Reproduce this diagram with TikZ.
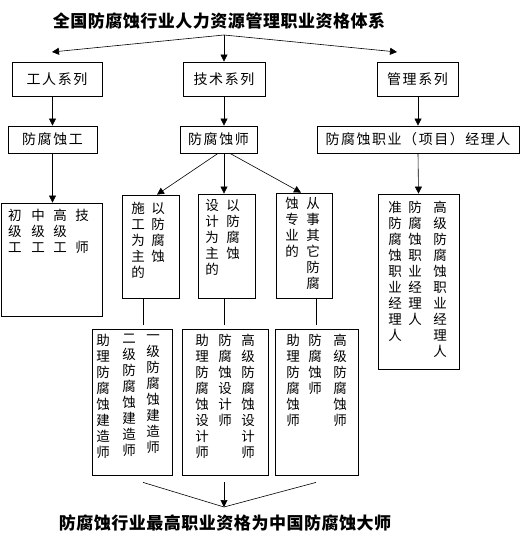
\documentclass[tikz,border=0pt]{standalone}
\usepackage{fontspec}
\usetikzlibrary{arrows.meta}
\newfontfamily\cjk{Noto Sans CJK SC}
\newfontfamily\cjkbox{Noto Sans CJK SC}[LetterSpace=11]
\newfontfamily\cjkhead{Noto Sans CJK SC}[LetterSpace=3]

\begin{document}
\begin{tikzpicture}[x=1pt, y=-1pt,
        box/.style={draw, line width=0.8pt, inner sep=0pt},
        boxtext/.style={font=\cjkbox\fontsize{14}{16}\selectfont},
        headline/.style={font=\cjkhead\bfseries\fontsize{17}{20}\selectfont},
        col/.style={anchor=north, inner sep=0pt, align=center, font=\cjk\fontsize{13.5}{16}\selectfont,
                execute at begin node=\rule{0pt}{11.5pt}},
        link/.style={line width=0.6pt},
        arr/.style={link, -{Triangle[length=7pt, width=7pt]}}]
                \useasboundingbox (0,0) rectangle (520,537);

                \node[headline] (top) at (219,21) {全国防腐蚀行业人力资源管理职业资格体系};

                \node[box, boxtext, minimum width=90pt, minimum height=34pt] (gr) at (57,79) {工人系列};
                \node[box, boxtext, minimum width=82pt, minimum height=34pt] (js) at (224,79) {技术系列};
                \node[box, boxtext, minimum width=81pt, minimum height=34pt] (gl) at (417.5,79) {管理系列};

                \node[box, boxtext, minimum width=89pt, minimum height=27pt] (fw) at (52.5,139.5) {防腐蚀工};
                \node[box, boxtext, minimum width=77pt, minimum height=27pt] (fs) at (218.5,139.5) {防腐蚀师};
                \node[box, boxtext, minimum width=202pt, minimum height=27pt] (jl) at (418,139.5) {防腐蚀职业（项目）经理人};

                \node[box, minimum width=101pt, minimum height=113pt] (wk) at (51.5,259.5) {};
                \node[box, minimum width=57pt, minimum height=103pt] (sg) at (150.5,246.5) {};
                \node[box, minimum width=57pt, minimum height=104pt] (sj) at (226.5,246) {};
                \node[box, minimum width=56pt, minimum height=105pt] (qt) at (304,245.5) {};
                \node[box, minimum width=81pt, minimum height=175pt] (mg) at (418.5,281.5) {};

                \node[box, minimum width=80pt, minimum height=146pt] (za) at (132,402) {};
                \node[box, minimum width=86pt, minimum height=146pt] (zb) at (225,402) {};
                \node[box, minimum width=83pt, minimum height=146pt] (zc) at (316.5,402) {};

                \node[col] (wk1) at (15,209) {初\\级\\工};
                \node[col] (wk2) at (38,209) {中\\级\\工};
                \node[col] (wk3) at (60,209) {高\\级\\工};
                \node[col] (wk4) at (82,209) {技\\\phantom{师}\\师};

                \node[col] (sg1) at (138,202) {施\\工\\为\\主\\的};
                \node[col] (sg2) at (158,202) {以\\防\\腐\\蚀};
                \node[col] (sj1) at (212,199) {设\\计\\为\\主\\的};
                \node[col] (sj2) at (233,199) {以\\防\\腐\\蚀};
                \node[col] (qt1) at (292,197) {蚀\\专\\业\\的};
                \node[col] (qt2) at (313,197) {从\\事\\其\\它\\防\\腐};

                \node[col] (mg1) at (395,201) {准\\防\\腐\\蚀\\职\\业\\经\\理\\人};
                \node[col] (mg2) at (415,201) {防\\腐\\蚀\\职\\业\\经\\理\\人};
                \node[col] (mg3) at (440,201) {高\\级\\防\\腐\\蚀\\职\\业\\经\\理\\人};

                \node[col] (za1) at (103,334) {助\\理\\防\\腐\\蚀\\建\\造\\师};
                \node[col] (za2) at (129,334) {二\\级\\防\\腐\\蚀\\建\\造\\师};
                \node[col] (za3) at (153,334) {一\\级\\防\\腐\\蚀\\建\\造\\师};
                \node[col] (zb1) at (202,334) {助\\理\\防\\腐\\蚀\\设\\计\\师};
                \node[col] (zb2) at (225,334) {防\\腐\\蚀\\设\\计\\师};
                \node[col] (zb3) at (248,334) {高\\级\\防\\腐\\蚀\\设\\计\\师};
                \node[col] (zc1) at (293,334) {助\\理\\防\\腐\\蚀\\师};
                \node[col] (zc2) at (315,334) {防\\腐\\蚀\\师};
                \node[col] (zc3) at (340,334) {高\\级\\防\\腐\\蚀\\师};

                \node[headline] (goal) at (225,523) {防腐蚀行业最高职业资格为中国防腐蚀大师};

                \coordinate (hub) at (224,35);
                \coordinate (leftend) at (52,52);
                \coordinate (rightend) at (397,52);
                \draw[arr] (hub) -- (leftend);
                \draw[arr] (hub) -- (js.north);
                \draw[arr] (hub) -- (rightend);

                \draw[arr] (fw.north |- gr.south) -- (fw.north);
                \draw[arr] (js.south) -- (js.south |- fs.north);
                \draw[arr] (jl.north |- gl.south) -- (jl.north);

                \draw[arr] (fw.south) -- (fw.south |- wk.north);
                \draw[arr] ([xshift=-0.5pt]fs.south) -- ([xshift=6.5pt]sg.north);
                \draw[arr] ([xshift=5.5pt]fs.south) -- ([xshift=-2.5pt]sj.north);
                \draw[arr] ([xshift=11.5pt]fs.south) -- ([xshift=-3pt]qt.north);
                \draw[arr] (jl.south) -- (mg.north);

                \draw[link] ([xshift=-7.5pt]sg.south) -- ([xshift=11pt, yshift=4pt]za.north);
                \draw[link] ([xshift=-2.5pt]sj.south) -- ([xshift=-1pt, yshift=4pt]zb.north);
                \draw[link] ([xshift=12pt]qt.south) -- ([xshift=-0.5pt, yshift=4pt]zc.north);

                \coordinate (meet) at (224,507);
                \draw[link] ([xshift=11pt, yshift=-7pt]za.south) -- (meet);
                \draw[arr] ([xshift=-1pt, yshift=-7pt]zb.south) -- (meet);
                \draw[link] ([xshift=-0.5pt, yshift=-7pt]zc.south) -- (meet);
            \end{tikzpicture}
\end{document}
